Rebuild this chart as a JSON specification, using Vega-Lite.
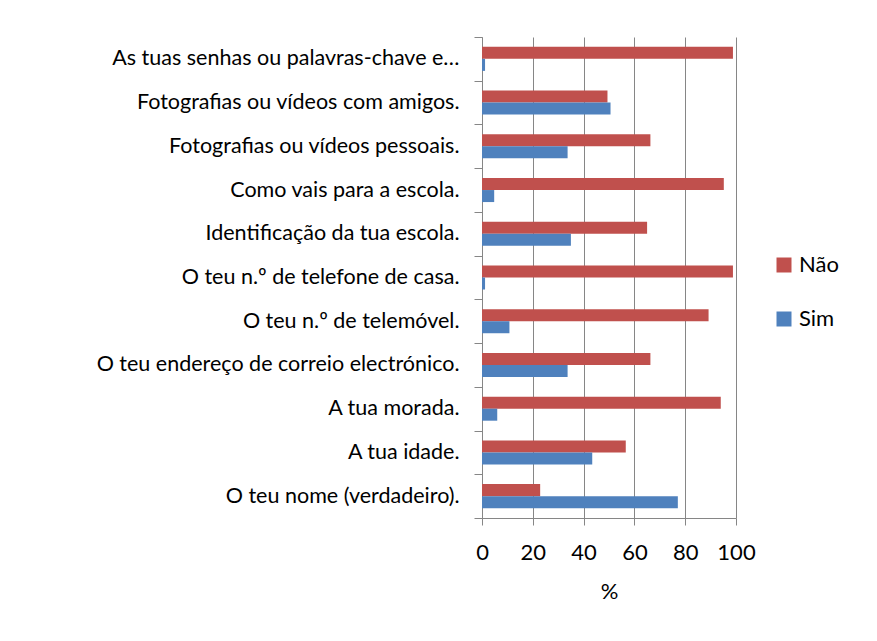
{
  "$schema": "https://vega.github.io/schema/vega-lite/v6.json",
  "width": 254,
  "height": 481,
  "autosize": {"type": "none"},
  "padding": {"left": 482, "top": 37, "right": 141, "bottom": 123},
  "background": "white",
  "config": {
    "font": "Lato",
    "view": {"stroke": null}
  },
  "data": {
    "values": [
      {"cat": "As tuas senhas ou palavras-chave e…", "resp": "Não", "v": 98.8},
      {"cat": "As tuas senhas ou palavras-chave e…", "resp": "Sim", "v": 1.2},
      {"cat": "Fotografias ou vídeos com amigos.", "resp": "Não", "v": 49.4},
      {"cat": "Fotografias ou vídeos com amigos.", "resp": "Sim", "v": 50.6},
      {"cat": "Fotografias ou vídeos pessoais.", "resp": "Não", "v": 66.3},
      {"cat": "Fotografias ou vídeos pessoais.", "resp": "Sim", "v": 33.7},
      {"cat": "Como vais para a escola.", "resp": "Não", "v": 95.2},
      {"cat": "Como vais para a escola.", "resp": "Sim", "v": 4.8},
      {"cat": "Identificação da tua escola.", "resp": "Não", "v": 65.0},
      {"cat": "Identificação da tua escola.", "resp": "Sim", "v": 35.0},
      {"cat": "O teu n.º de telefone de casa.", "resp": "Não", "v": 98.8},
      {"cat": "O teu n.º de telefone de casa.", "resp": "Sim", "v": 1.2},
      {"cat": "O teu n.º de telemóvel.", "resp": "Não", "v": 89.2},
      {"cat": "O teu n.º de telemóvel.", "resp": "Sim", "v": 10.8},
      {"cat": "O teu endereço de correio electrónico.", "resp": "Não", "v": 66.3},
      {"cat": "O teu endereço de correio electrónico.", "resp": "Sim", "v": 33.7},
      {"cat": "A tua morada.", "resp": "Não", "v": 94.0},
      {"cat": "A tua morada.", "resp": "Sim", "v": 6.0},
      {"cat": "A tua idade.", "resp": "Não", "v": 56.6},
      {"cat": "A tua idade.", "resp": "Sim", "v": 43.4},
      {"cat": "O teu nome (verdadeiro).", "resp": "Não", "v": 22.9},
      {"cat": "O teu nome (verdadeiro).", "resp": "Sim", "v": 77.1}
    ]
  },
  "mark": {"type": "bar"},
  "encoding": {
    "y": {
      "field": "cat",
      "type": "nominal",
      "sort": null,
      "scale": {"paddingInner": 0, "paddingOuter": 0},
      "axis": {
        "title": null,
        "tickBand": "extent",
        "domainColor": "#868686",
        "tickColor": "#868686",
        "tickSize": 8,
        "labelPadding": 15,
        "labelFontSize": 21.5,
        "labelColor": "#000000",
        "labelLimit": 600,
        "grid": false
      }
    },
    "yOffset": {
      "field": "resp",
      "type": "nominal",
      "sort": ["Não", "Sim"],
      "scale": {"paddingInner": 0, "paddingOuter": 0.82}
    },
    "x": {
      "field": "v",
      "type": "quantitative",
      "scale": {"domain": [0, 100], "nice": false},
      "axis": {
        "title": "%",
        "values": [0, 20, 40, 60, 80, 100],
        "grid": true,
        "gridColor": "#868686",
        "domainColor": "#868686",
        "tickColor": "#868686",
        "tickSize": 7,
        "labelPadding": 17,
        "labelFlush": false,
        "labelOverlap": false,
        "labelFontSize": 22,
        "labelColor": "#000000",
        "titleFontSize": 22,
        "titleFontWeight": "normal",
        "titleColor": "#000000",
        "titlePadding": 18
      }
    },
    "color": {
      "field": "resp",
      "type": "nominal",
      "sort": ["Não", "Sim"],
      "scale": {"domain": ["Não", "Sim"], "range": ["#C0504D", "#4F81BD"]},
      "legend": {
        "title": null,
        "orient": "none",
        "legendX": 291,
        "legendY": 217,
        "symbolType": "square",
        "symbolSize": 225,
        "symbolStrokeWidth": 0,
        "labelFontSize": 22,
        "labelColor": "#000000",
        "rowPadding": 32,
        "labelOffset": 4
      }
    }
  }
}
